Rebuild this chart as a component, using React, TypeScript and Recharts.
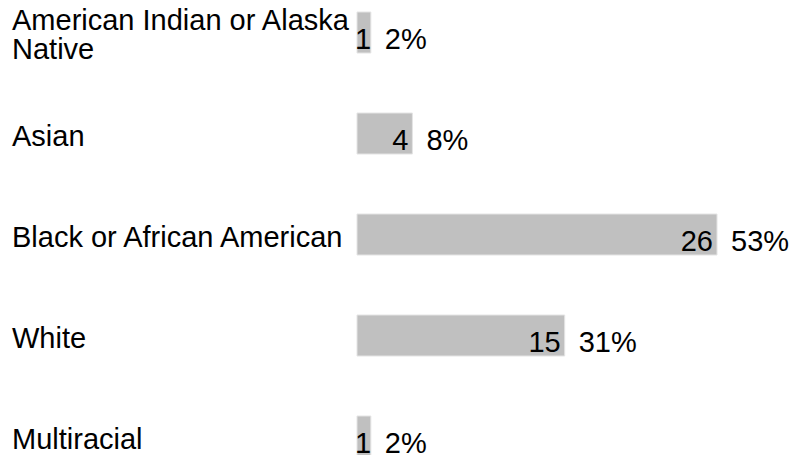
import React from 'react';
import { BarChart, Bar, XAxis, YAxis, LabelList } from 'recharts';

const categories = [
    'American Indian or Alaska Native',
    'Asian',
    'Black or African American',
    'White',
    'Multiracial'
];
const counts = [1, 4, 26, 15, 1];
const percents = ['2%', '8%', '53%', '31%', '2%'];

const data = categories.map((name, i) => ({ name, count: counts[i], pct: percents[i] }));

const FONT = '"Liberation Sans", Arial, sans-serif';
const FONT_SIZE = 29;

// greedy wrap, label column is narrow
const wrap = (text: string, max = 25) => {
    const lines: string[] = [];
    let cur = '';
    text.split(' ').forEach((w) => {
        const next = cur ? cur + ' ' + w : w;
        if (next.length > max && cur) {
            lines.push(cur);
            cur = w;
        } else {
            cur = next;
        }
    });
    if (cur) lines.push(cur);
    return lines;
};

const CategoryTick = (props: any) => {
    const { y, payload } = props;
    const lines = wrap(String(payload.value));
    const lh = 29;
    const first = y + 12 - ((lines.length - 1) * lh) / 2;
    return (
        <text x={12} y={first} fill="#000" fontSize={FONT_SIZE} fontFamily={FONT} textAnchor="start">
            {lines.map((l, i) => (
                <tspan key={i} x={12} y={first + i * lh}>
                    {l}
                </tspan>
            ))}
        </text>
    );
};

const charW = (s: string) => s.length * FONT_SIZE * 0.556;

const ValueLabels = (props: any) => {
    const { x, y, width, height, value, index } = props;
    const barEnd = x + width;
    const countEnd = Math.max(barEnd - 4, x + charW(String(value)) - 2);
    const pctStart = barEnd + 14;
    const baseline = y + height / 2 + 16;
    return (
        <g>
            <text x={countEnd} y={baseline} textAnchor="end" fill="#000" fontSize={FONT_SIZE} fontFamily={FONT}>
                {value}
            </text>
            <text x={pctStart} y={baseline} textAnchor="start" fill="#000" fontSize={FONT_SIZE} fontFamily={FONT}>
                {percents[index]}
            </text>
        </g>
    );
};

const App: React.FC = () => {
    return (
        <div style={{ position: 'absolute', left: 0, top: -18 }}>
            <BarChart
                width={790}
                height={505}
                data={data}
                layout="vertical"
                margin={{ top: 0, right: 73, bottom: 0, left: 0 }}
            >
                <XAxis type="number" domain={[0, 26]} hide />
                <YAxis
                    type="category"
                    dataKey="name"
                    width={357}
                    axisLine={false}
                    tickLine={false}
                    tick={<CategoryTick />}
                    interval={0}
                />
                <Bar
                    dataKey="count"
                    fill="#c0c0c0"
                    stroke="#e4e4e4"
                    strokeWidth={1}
                    barSize={41}
                    isAnimationActive={false}
                >
                    <LabelList dataKey="count" content={<ValueLabels />} />
                </Bar>
            </BarChart>
        </div>
    );
};

export default App;
